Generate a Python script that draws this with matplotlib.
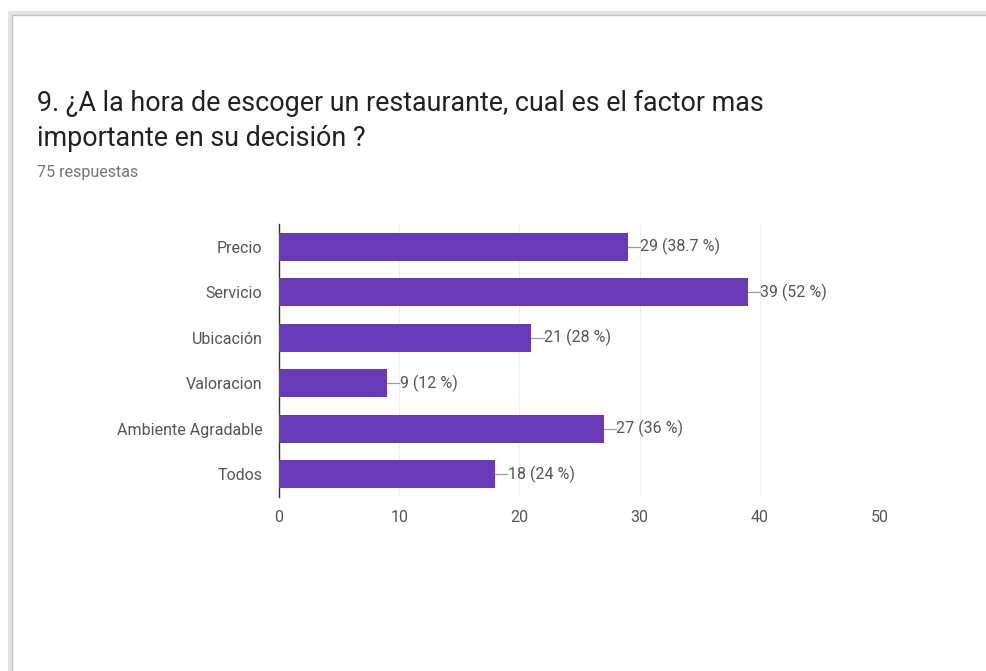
import matplotlib.pyplot as plt
import matplotlib.patches as patches

# Survey answers (Google Forms style horizontal bar chart)
categories = ['Precio', 'Servicio', 'Ubicación', 'Valoracion', 'Ambiente Agradable', 'Todos']
counts = [29, 39, 21, 9, 27, 18]
percent_labels = ['38.7 %', '52 %', '28 %', '12 %', '36 %', '24 %']
x_ticks = [0, 10, 20, 30, 40, 50]

title_line1 = '9. ¿A la hora de escoger un restaurante, cual es el factor mas'
title_line2 = 'importante en su decisión ?'
subtitle = '75 respuestas'

purple = '#673ab7'
gray_text = '#555555'

plt.rcParams['font.family'] = ['Roboto', 'DejaVu Sans']

fig = plt.figure(figsize=(9.87, 6.71), dpi=100)
fig.patch.set_facecolor('white')

# card outline with a soft shadow, kept behind the axes
shadow = patches.Rectangle((0.010, -0.05), 1.1, 1.03, transform=fig.transFigure,
                           facecolor='none', edgecolor='#e4e4e4', linewidth=3, zorder=-10)
card = patches.Rectangle((0.012, -0.05), 1.1, 1.027, transform=fig.transFigure,
                         facecolor='white', edgecolor='#c4c4c4', linewidth=1, zorder=-9)
fig.patches.extend([shadow, card])

fig.text(0.037, 0.846, title_line1, fontsize=19.4, color='#212121', va='center')
fig.text(0.037, 0.794, title_line2, fontsize=19.4, color='#212121', va='center')
fig.text(0.037, 0.743, subtitle, fontsize=11.5, color='#757575', va='center')

ax = fig.add_axes([0.2827, 0.2593, 0.609, 0.4069])
y_pos = list(range(len(categories)))
ax.barh(y_pos, counts, height=0.62, color=purple, zorder=3)

# short leader line then the "count (percent)" label
for y, c, p in zip(y_pos, counts, percent_labels):
    ax.plot([c, c + 1.0], [y, y], color='#9e9e9e', lw=0.9, zorder=4)
    ax.text(c + 1.05, y, f'{c} ({p})', va='center', ha='left', fontsize=11.5, color=gray_text)

ax.set_xlim(0, 50)
ax.set_ylim(len(categories) - 0.5, -0.5)
ax.set_xticks(x_ticks)
ax.set_yticks(y_pos)
ax.set_yticklabels(categories)
ax.tick_params(axis='both', length=0, labelsize=11.5, colors=gray_text)
ax.tick_params(axis='x', pad=9)
ax.tick_params(axis='y', pad=12)
ax.grid(axis='x', color='#eeeeee', linewidth=0.8, zorder=0)

for side in ['top', 'right', 'bottom']:
    ax.spines[side].set_visible(False)
ax.spines['left'].set_color('#333333')
ax.spines['left'].set_linewidth(1.0)

fig.savefig('out.png', dpi=100)
